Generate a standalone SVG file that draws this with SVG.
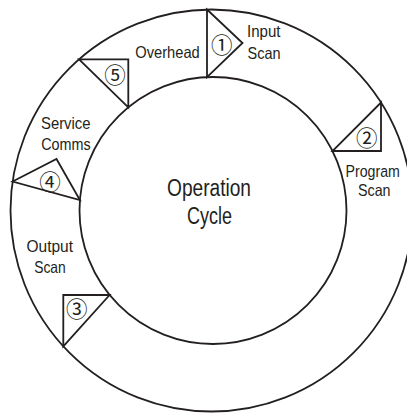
<svg xmlns="http://www.w3.org/2000/svg" width="407" height="414" viewBox="0 0 407 414">
<style>
.ln{fill:none;stroke:#231f20;stroke-width:1.8;stroke-linejoin:miter}
.lb{font-family:"Liberation Sans",Arial,sans-serif;font-size:16.5px;fill:#231f20}
.big{font-family:"Liberation Sans",Arial,sans-serif;font-size:23px;fill:#231f20}
.num{font-family:"Noto Sans CJK JP","DejaVu Sans",sans-serif;font-size:21.5px;fill:#231f20;text-anchor:middle;dominant-baseline:central}
</style>
<rect width="407" height="414" fill="#fff"/>
<g id="ring">
<circle class="ln" cx="211.5" cy="210.5" r="201"/>
<circle class="ln" cx="213" cy="210.5" r="133.5"/>
</g>
<g id="center">
<text class="big" x="167" y="196" textLength="84" lengthAdjust="spacingAndGlyphs">Operation</text>
<text class="big" x="187" y="224.3" textLength="45" lengthAdjust="spacingAndGlyphs">Cycle</text>
</g>
<g id="input-scan">
<polygon class="ln" points="207,9.5 242.5,43 207,77.1"/>
<text class="num" x="221.7" y="43.3">①</text>
<text class="lb" x="247" y="37.3" textLength="33.5" lengthAdjust="spacingAndGlyphs">Input</text>
<text class="lb" x="247.5" y="59.3" textLength="33" lengthAdjust="spacingAndGlyphs">Scan</text>
</g>
<g id="program-scan">
<polygon class="ln" points="381,102.5 381,151 332.5,151"/>
<text class="num" x="366.7" y="136.7">②</text>
<text class="lb" transform="translate(345.5,176.7) scale(0.86,1)" x="0" y="0">Program</text>
<text class="lb" x="358" y="196" textLength="32.5" lengthAdjust="spacingAndGlyphs">Scan</text>
</g>
<g id="output-scan">
<polygon class="ln" points="63.3,295 109.6,295 63.3,346.3"/>
<text class="num" x="76.7" y="307.3">③</text>
<text class="lb" x="26.5" y="252.3" textLength="46.5" lengthAdjust="spacingAndGlyphs">Output</text>
<text class="lb" x="34.2" y="273.3" textLength="31.5" lengthAdjust="spacingAndGlyphs">Scan</text>
</g>
<g id="service-comms">
<polygon class="ln" points="12.6,181.5 56.5,159 79.9,200"/>
<text class="num" x="50" y="180">④</text>
<text class="lb" x="41" y="129" textLength="49.5" lengthAdjust="spacingAndGlyphs">Service</text>
<text class="lb" x="41.2" y="150" textLength="49.5" lengthAdjust="spacingAndGlyphs">Comms</text>
</g>
<g id="overhead">
<polygon class="ln" points="79.1,59.3 128.3,59.3 128.3,107.3"/>
<text class="num" x="115" y="73.5">⑤</text>
<text class="lb" x="135.3" y="58.3" textLength="64.5" lengthAdjust="spacingAndGlyphs">Overhead</text>
</g>
</svg>
